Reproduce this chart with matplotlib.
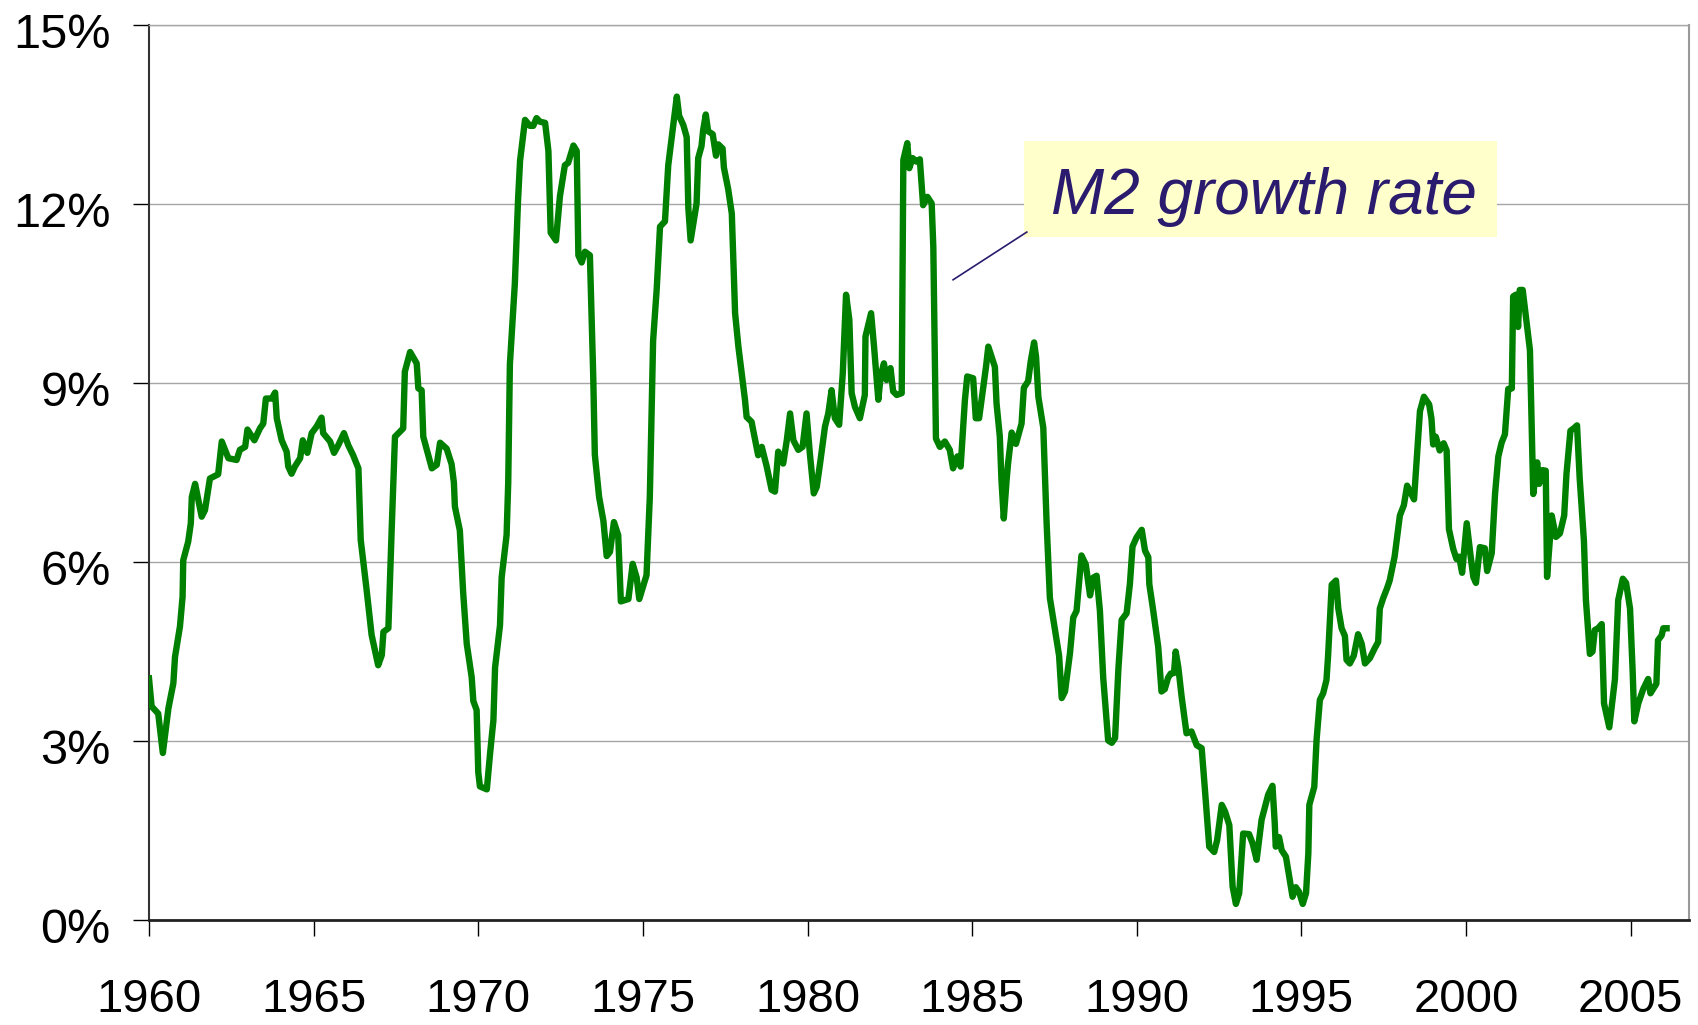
import matplotlib
matplotlib.use("Agg")
import matplotlib.pyplot as plt
import matplotlib.transforms as mtransforms
from matplotlib.patches import Rectangle

# M2 growth rate, % (year, value)
years = [
    1960.00, 1960.08, 1960.28, 1960.42, 1960.59, 1960.74, 1960.79, 1960.94, 1961.02, 1961.04,
    1961.19, 1961.27, 1961.30, 1961.40, 1961.60, 1961.70, 1961.85, 1962.10, 1962.21, 1962.41,
    1962.66, 1962.76, 1962.92, 1962.99, 1963.20, 1963.37, 1963.47, 1963.55, 1963.73, 1963.83,
    1963.88, 1964.03, 1964.18, 1964.23, 1964.33, 1964.43, 1964.59, 1964.67, 1964.81, 1964.94,
    1965.09, 1965.24, 1965.29, 1965.50, 1965.62, 1965.75, 1965.92, 1966.05, 1966.20, 1966.36,
    1966.43, 1966.61, 1966.76, 1966.96, 1967.07, 1967.12, 1967.27, 1967.37, 1967.47, 1967.72,
    1967.77, 1967.93, 1968.13, 1968.18, 1968.28, 1968.33, 1968.59, 1968.74, 1968.84, 1969.04,
    1969.19, 1969.26, 1969.29, 1969.44, 1969.54, 1969.65, 1969.80, 1969.85, 1969.95, 1970.00,
    1970.05, 1970.26, 1970.36, 1970.46, 1970.51, 1970.66, 1970.71, 1970.86, 1970.91, 1970.96,
    1971.11, 1971.21, 1971.27, 1971.42, 1971.57, 1971.67, 1971.77, 1971.87, 1972.03, 1972.13,
    1972.20, 1972.36, 1972.48, 1972.63, 1972.73, 1972.89, 1972.99, 1973.04, 1973.14, 1973.24,
    1973.39, 1973.49, 1973.54, 1973.67, 1973.80, 1973.90, 1974.00, 1974.12, 1974.25, 1974.33,
    1974.56, 1974.69, 1974.81, 1974.89, 1975.11, 1975.21, 1975.31, 1975.42, 1975.52, 1975.67,
    1975.77, 1976.03, 1976.10, 1976.23, 1976.33, 1976.38, 1976.45, 1976.63, 1976.68, 1976.78,
    1976.83, 1976.91, 1976.98, 1977.12, 1977.22, 1977.29, 1977.42, 1977.46, 1977.59, 1977.70,
    1977.80, 1977.90, 1978.00, 1978.10, 1978.15, 1978.30, 1978.40, 1978.50, 1978.61, 1978.76,
    1978.91, 1979.01, 1979.11, 1979.26, 1979.37, 1979.47, 1979.57, 1979.72, 1979.85, 1979.97,
    1980.07, 1980.19, 1980.28, 1980.38, 1980.53, 1980.63, 1980.73, 1980.83, 1980.96, 1981.07,
    1981.17, 1981.27, 1981.34, 1981.44, 1981.59, 1981.74, 1981.76, 1981.93, 1982.02, 1982.15,
    1982.22, 1982.32, 1982.40, 1982.52, 1982.60, 1982.71, 1982.86, 1982.91, 1983.03, 1983.09,
    1983.19, 1983.31, 1983.41, 1983.51, 1983.64, 1983.77, 1983.82, 1983.90, 1984.02, 1984.17,
    1984.32, 1984.42, 1984.55, 1984.65, 1984.78, 1984.85, 1985.03, 1985.11, 1985.21, 1985.34,
    1985.42, 1985.49, 1985.69, 1985.74, 1985.84, 1985.89, 1985.96, 1986.05, 1986.09, 1986.20,
    1986.33, 1986.50, 1986.57, 1986.70, 1986.78, 1986.88, 1986.94, 1987.01, 1987.16, 1987.26,
    1987.36, 1987.51, 1987.64, 1987.72, 1987.82, 1987.97, 1988.07, 1988.17, 1988.32, 1988.45,
    1988.58, 1988.68, 1988.78, 1988.88, 1988.98, 1989.13, 1989.24, 1989.34, 1989.44, 1989.54,
    1989.69, 1989.79, 1989.87, 1989.99, 1990.15, 1990.25, 1990.35, 1990.38, 1990.50, 1990.65,
    1990.75, 1990.85, 1990.95, 1991.03, 1991.13, 1991.18, 1991.26, 1991.36, 1991.51, 1991.66,
    1991.82, 1991.97, 1992.07, 1992.20, 1992.35, 1992.44, 1992.58, 1992.68, 1992.81, 1992.91,
    1993.01, 1993.11, 1993.23, 1993.41, 1993.52, 1993.64, 1993.79, 1993.99, 1994.12, 1994.19,
    1994.22, 1994.32, 1994.40, 1994.53, 1994.63, 1994.73, 1994.83, 1994.93, 1995.04, 1995.14,
    1995.21, 1995.24, 1995.39, 1995.46, 1995.56, 1995.66, 1995.76, 1995.81, 1995.92, 1996.05,
    1996.12, 1996.22, 1996.32, 1996.37, 1996.47, 1996.59, 1996.72, 1996.83, 1996.93, 1997.08,
    1997.23, 1997.33, 1997.38, 1997.48, 1997.60, 1997.68, 1997.83, 1997.99, 1998.11, 1998.21,
    1998.34, 1998.42, 1998.52, 1998.60, 1998.72, 1998.88, 1998.95, 1999.00, 1999.08, 1999.20,
    1999.32, 1999.41, 1999.48, 1999.61, 1999.71, 1999.79, 1999.88, 2000.02, 2000.14, 2000.22,
    2000.30, 2000.42, 2000.57, 2000.64, 2000.78, 2000.88, 2000.98, 2001.08, 2001.18, 2001.28,
    2001.39, 2001.43, 2001.51, 2001.58, 2001.63, 2001.72, 2001.94, 2002.04, 2002.16, 2002.22,
    2002.32, 2002.42, 2002.46, 2002.60, 2002.73, 2002.85, 2002.98, 2003.05, 2003.17, 2003.27,
    2003.37, 2003.45, 2003.58, 2003.64, 2003.76, 2003.84, 2003.91, 2004.01, 2004.12, 2004.19,
    2004.35, 2004.52, 2004.62, 2004.76, 2004.86, 2004.98, 2005.06, 2005.11, 2005.23, 2005.38,
    2005.53, 2005.60, 2005.78, 2005.83, 2005.94, 2005.99, 2006.09,
]
m2_growth = [
    4.05, 3.58, 3.46, 2.80, 3.55, 3.97, 4.41, 4.92, 5.42, 6.03,
    6.34, 6.65, 7.09, 7.31, 6.76, 6.87, 7.40, 7.47, 8.02, 7.74,
    7.71, 7.88, 7.93, 8.22, 8.04, 8.24, 8.32, 8.74, 8.74, 8.84,
    8.41, 8.04, 7.85, 7.60, 7.48, 7.60, 7.74, 8.04, 7.83, 8.16,
    8.27, 8.42, 8.16, 8.02, 7.83, 7.96, 8.16, 7.96, 7.79, 7.57,
    6.37, 5.53, 4.78, 4.27, 4.44, 4.83, 4.89, 6.54, 8.10, 8.24,
    9.19, 9.52, 9.33, 8.91, 8.88, 8.10, 7.57, 7.63, 8.00, 7.90,
    7.64, 7.33, 6.93, 6.53, 5.50, 4.63, 4.07, 3.67, 3.52, 2.48,
    2.24, 2.19, 2.80, 3.35, 4.23, 4.94, 5.74, 6.45, 7.33, 9.31,
    10.66, 12.09, 12.73, 13.41, 13.31, 13.31, 13.44, 13.38, 13.36, 12.89,
    11.52, 11.39, 12.13, 12.65, 12.69, 12.98, 12.89, 11.14, 11.02, 11.20,
    11.14, 9.15, 7.80, 7.09, 6.69, 6.10, 6.17, 6.67, 6.45, 5.34,
    5.38, 5.97, 5.74, 5.38, 5.78, 7.09, 9.71, 10.58, 11.62, 11.71,
    12.65, 13.80, 13.48, 13.32, 13.12, 11.93, 11.39, 12.01, 12.77, 12.97,
    13.24, 13.50, 13.22, 13.17, 12.81, 13.00, 12.93, 12.61, 12.25, 11.84,
    10.17, 9.61, 9.16, 8.72, 8.43, 8.35, 8.07, 7.79, 7.93, 7.60,
    7.21, 7.18, 7.85, 7.65, 8.04, 8.49, 8.04, 7.88, 7.93, 8.49,
    7.82, 7.15, 7.26, 7.65, 8.27, 8.49, 8.88, 8.41, 8.30, 9.16,
    10.48, 10.06, 8.83, 8.60, 8.41, 8.80, 9.78, 10.17, 9.61, 8.72,
    9.11, 9.33, 9.05, 9.25, 8.86, 8.80, 8.83, 12.74, 13.02, 12.60,
    12.77, 12.71, 12.75, 11.98, 12.12, 12.01, 11.28, 8.07, 7.93, 8.02,
    7.88, 7.57, 7.77, 7.60, 8.72, 9.11, 9.08, 8.41, 8.41, 8.94,
    9.27, 9.61, 9.27, 8.66, 8.10, 7.37, 6.73, 7.40, 7.65, 8.17,
    7.98, 8.32, 8.92, 9.03, 9.37, 9.68, 9.44, 8.77, 8.25, 6.67,
    5.40, 4.88, 4.43, 3.72, 3.83, 4.47, 5.07, 5.18, 6.11, 5.96,
    5.44, 5.74, 5.77, 5.18, 4.06, 3.01, 2.97, 3.05, 4.20, 5.03,
    5.14, 5.63, 6.26, 6.41, 6.54, 6.19, 6.08, 5.63, 5.18, 4.58,
    3.83, 3.87, 4.06, 4.13, 4.14, 4.50, 4.24, 3.75, 3.13, 3.16,
    2.93, 2.88, 2.18, 1.23, 1.14, 1.34, 1.93, 1.82, 1.59, 0.56,
    0.27, 0.45, 1.45, 1.44, 1.28, 1.01, 1.68, 2.10, 2.25, 1.62,
    1.23, 1.39, 1.17, 1.06, 0.73, 0.39, 0.55, 0.47, 0.27, 0.45,
    1.12, 1.93, 2.23, 3.02, 3.69, 3.80, 4.02, 4.43, 5.62, 5.69,
    5.22, 4.89, 4.76, 4.36, 4.30, 4.43, 4.79, 4.63, 4.30, 4.39,
    4.56, 4.66, 5.22, 5.39, 5.56, 5.69, 6.09, 6.78, 6.95, 7.28,
    7.14, 7.05, 7.87, 8.53, 8.77, 8.64, 8.40, 7.97, 8.10, 7.87,
    7.99, 7.87, 6.55, 6.22, 6.05, 6.09, 5.82, 6.65, 6.09, 5.75,
    5.65, 6.25, 6.23, 5.85, 6.15, 7.14, 7.77, 8.00, 8.14, 8.90,
    8.91, 10.45, 10.48, 9.94, 10.56, 10.56, 9.55, 7.14, 7.67, 7.31,
    7.54, 7.53, 5.75, 6.78, 6.42, 6.48, 6.78, 7.48, 8.20, 8.24,
    8.29, 7.41, 6.35, 5.36, 4.46, 4.50, 4.86, 4.89, 4.96, 3.63,
    3.23, 4.03, 5.36, 5.72, 5.65, 5.22, 4.16, 3.33, 3.63, 3.87,
    4.04, 3.80, 3.96, 4.69, 4.77, 4.89, 4.89,
]

x_ticks = [1960, 1965, 1970, 1975, 1980, 1985, 1990, 1995, 2000, 2005]
y_ticks = [0, 3, 6, 9, 12, 15]
y_labels = ["0%", "3%", "6%", "9%", "12%", "15%"]

plt.rcParams['font.family'] = ['Liberation Sans', 'DejaVu Sans']

fig = plt.figure(figsize=(16.99, 10.25), dpi=100)
ax = fig.add_axes([0.0877, 0.1024, 0.9064, 0.8732])

ax.plot(years, m2_growth, color='#008000', lw=4.6, solid_joinstyle='round', zorder=3)

ax.set_xlim(1960, 2006.77)
ax.set_ylim(0, 15)
ax.set_xticks(x_ticks)
ax.set_xticklabels([str(t) for t in x_ticks])
ax.set_yticks(y_ticks)
ax.set_yticklabels(y_labels)

ax.grid(axis='y', color='#a6a6a6', lw=1.0, zorder=1)
ax.tick_params(axis='x', length=11.5, width=1.0, pad=30, labelsize=34, colors='black')
ax.tick_params(axis='y', length=11.5, width=1.0, pad=16, labelsize=35, colors='black')

# y labels sit a little below their gridlines in the original
shift = mtransforms.ScaledTranslation(0, -5 / 100, fig.dpi_scale_trans)
for lab in ax.get_yticklabels():
    lab.set_transform(lab.get_transform() + shift)

ax.spines['left'].set_color('#333333')
ax.spines['left'].set_linewidth(1.5)
ax.spines['bottom'].set_color('#222222')
ax.spines['bottom'].set_linewidth(2.0)
ax.spines['top'].set_color('#a6a6a6')
ax.spines['top'].set_linewidth(1.0)
ax.spines['right'].set_color('#999999')
ax.spines['right'].set_linewidth(1.5)

# label box with leader line
ax.add_patch(Rectangle((1986.57, 11.45), 14.37, 1.61, facecolor='#ffffcc',
                       edgecolor='none', zorder=4))
ax.plot([1984.42, 1986.66], [10.73, 11.53], color='#2a1b6e', lw=1.2, zorder=4)
ax.text(1993.85, 11.83, 'M2 growth rate', fontsize=46, style='italic',
        color='#2a1b6e', ha='center', va='baseline', zorder=5)

fig.savefig('out.png', dpi=100)
